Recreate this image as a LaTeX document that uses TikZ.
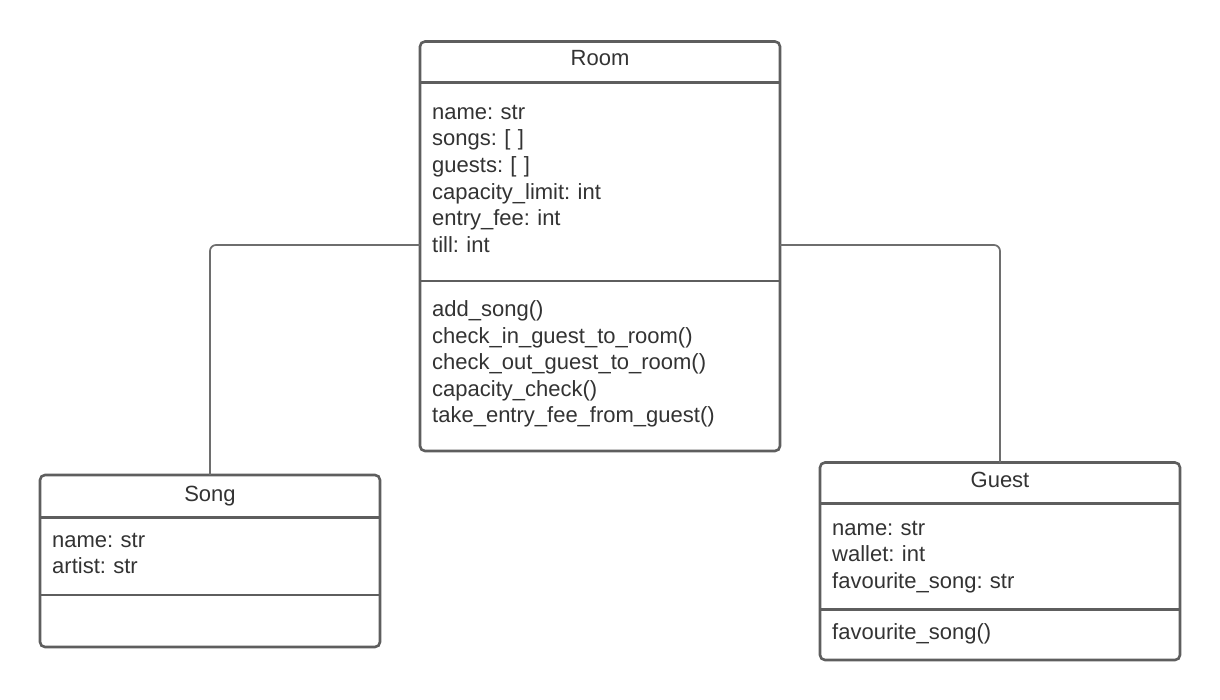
\documentclass[tikz,border=0pt]{standalone}
\usepackage{fontspec}
\setmainfont{Liberation Sans}
\frenchspacing
\definecolor{boxline}{HTML}{5E5E5E}
\definecolor{linkline}{HTML}{6E6E6E}
\definecolor{txt}{HTML}{333333}
\begin{document}
\begin{tikzpicture}[x=1pt,y=-1pt,
  umlbox/.style={draw=boxline, line width=2.6pt, rounded corners=5pt, anchor=north west, inner sep=0pt, outer sep=0pt, fill=white},
  divider/.style={draw=boxline, line width=2.6pt},
  link/.style={draw=linkline, line width=1.7pt, rounded corners=6pt},
  title/.style={anchor=base, inner sep=0pt, text=txt, font=\fontsize{22}{26.6}\selectfont},
  members/.style={anchor=base west, inner sep=0pt, text=txt, text width=340pt, align=left, font=\fontsize{22}{26.6}\selectfont\frenchspacing}]
\useasboundingbox (0,0) rectangle (1220,700);
% connectors
\coordinate (lj) at (420,245);
\coordinate (rj) at (780,245);
% boxes
\node[umlbox, minimum width=360pt, minimum height=409.5pt] (room) at (420,41.5) {};
\node[umlbox, minimum width=340pt, minimum height=172pt] (song) at (40,475) {};
\node[umlbox, minimum width=360pt, minimum height=197.5pt] (guest) at (820,462.5) {};
\draw[link] (lj) -| (song.north);
\draw[link] (rj) -| (guest.north);
% Room
\draw[divider] (420,82.3) -- (780,82.3);
\draw[divider] (420,281) -- (780,281);
\node[title] (roomtitle) at (600,66) {Room};
\node[members] (roomattr) at (432,119.3) {name: str\\songs: [ ]\\guests: [ ]\\capacity\_limit: int\\entry\_fee: int\\till: int};
\node[members] (roommeth) at (432,316.5) {add\_song()\\check\_in\_guest\_to\_room()\\check\_out\_guest\_to\_room()\\capacity\_check()\\take\_entry\_fee\_from\_guest()};
% Song
\draw[divider] (40,517.3) -- (380,517.3);
\draw[divider] (40,595) -- (380,595);
\node[title] (songtitle) at (210,501.7) {Song};
\node[members] (songattr) at (52,547.3) {name: str\\artist: str};
% Guest
\draw[divider] (820,503.3) -- (1180,503.3);
\draw[divider] (820,609.3) -- (1180,609.3);
\node[title] (guesttitle) at (1000,487.3) {Guest};
\node[members] (guestattr) at (832,535) {name: str\\wallet: int\\favourite\_song: str};
\node[members] (guestmeth) at (832,639.3) {favourite\_song()};
\end{tikzpicture}
\end{document}
